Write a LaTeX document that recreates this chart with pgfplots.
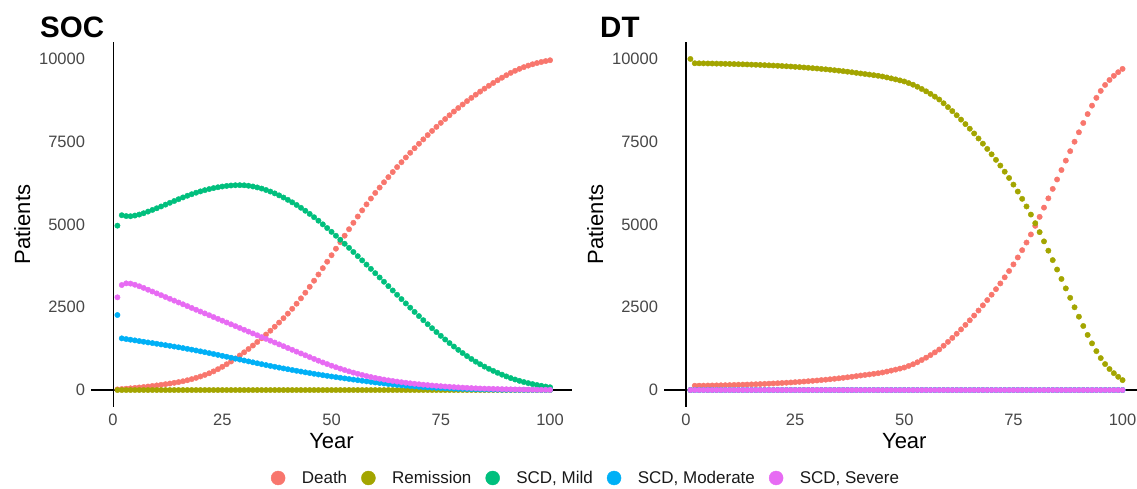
\documentclass[border=0pt]{standalone}
\usepackage{fontspec}
\setmainfont{Liberation Sans}
\usepackage{pgfplots}
\usepackage{pgfplotstable}
\pgfplotsset{compat=1.18}
\definecolor{cD}{HTML}{F8766D}
\definecolor{cR}{HTML}{A3A500}
\definecolor{cMi}{HTML}{00BF7D}
\definecolor{cMo}{HTML}{00B0F6}
\definecolor{cSe}{HTML}{E76BF3}

\pgfplotstableread{
yr D R Mi Mo Se
1 20 0 4965 2266 2800
2 30 0 5280 1561 3172
3 41 0 5255 1540 3222
4 53 0 5250 1520 3215
5 65 0 5270 1500 3180
6 78 0 5300 1479 3135
7 92 0 5340 1458 3085
8 107 0 5390 1438 3030
9 123 0 5440 1418 2975
10 140 0 5490 1398 2920
11 158 0 5545 1377 2865
12 177 0 5600 1356 2810
13 197 0 5655 1335 2755
14 218 0 5710 1313 2700
15 240 0 5765 1291 2645
16 266 0 5818 1268 2590
17 296 0 5868 1244 2535
18 330 0 5915 1220 2480
19 368 0 5960 1195 2425
20 410 0 6000 1169 2370
21 456 0 6037 1143 2315
22 506 0 6070 1116 2260
23 564 0 6100 1089 2205
24 630 0 6125 1061 2150
25 702 0 6147 1033 2095
26 780 0 6165 1005 2040
27 864 0 6178 977 1985
28 952 0 6186 949 1930
29 1044 0 6188 921 1875
30 1140 0 6184 893 1820
31 1240 0 6170 865 1765
32 1344 0 6148 837 1710
33 1452 0 6120 809 1655
34 1564 0 6085 782 1600
35 1676 0 6043 755 1545
36 1792 0 5995 729 1490
37 1912 0 5940 703 1435
38 2038 0 5880 678 1380
39 2170 0 5815 653 1325
40 2308 0 5745 629 1270
41 2454 0 5670 605 1215
42 2608 0 5590 581 1160
43 2770 0 5505 558 1105
44 2940 0 5415 535 1050
45 3118 0 5320 513 995
46 3302 0 5220 491 940
47 3490 0 5115 470 886
48 3682 0 5005 449 834
49 3876 0 4893 429 784
50 4072 0 4778 409 736
51 4269 0 4660 390 690
52 4466 0 4540 371 646
53 4662 0 4418 352 604
54 4858 0 4295 334 564
55 5051 0 4170 316 526
56 5241 0 4044 298 490
57 5427 0 3917 280 456
58 5608 0 3789 263 424
59 5784 0 3660 246 394
60 5954 0 3530 229 366
61 6116 0 3400 213 340
62 6275 0 3270 197 316
63 6431 0 3139 182 294
64 6584 0 3008 168 274
65 6734 0 2877 155 255
66 6881 0 2747 142 237
67 7025 0 2617 130 220
68 7166 0 2488 119 204
69 7304 0 2360 108 189
70 7439 0 2234 98 175
71 7571 0 2110 89 162
72 7700 0 1988 81 150
73 7826 0 1868 73 138
74 7949 0 1751 66 127
75 8069 0 1637 59 117
76 8186 0 1526 53 107
77 8300 0 1418 47 98
78 8411 0 1314 42 89
79 8519 0 1214 37 81
80 8624 0 1118 33 73
81 8726 0 1026 29 66
82 8825 0 939 26 59
83 8921 0 857 23 53
84 9014 0 780 20 48
85 9104 0 708 18 43
86 9191 0 641 16 39
87 9275 0 579 14 35
88 9356 0 520 12 31
89 9434 0 465 10 28
90 9509 0 412 9 25
91 9579 0 362 8 22
92 9643 0 318 7 19
93 9701 0 278 6 17
94 9753 0 242 5 15
95 9799 0 210 4 13
96 9840 0 180 4 11
97 9876 0 153 3 9
98 9908 0 128 3 8
99 9936 0 105 2 7
100 9961 0 85 2 6
}\soc

\pgfplotstableread{
yr D R Mi Mo Se
1 0 10000 0 0 0
2 130 9870 0 0 0
3 132 9868 0 0 0
4 134 9866 0 0 0
5 136 9864 0 0 0
6 138 9862 0 0 0
7 141 9859 0 0 0
8 144 9856 0 0 0
9 147 9853 0 0 0
10 150 9850 0 0 0
11 154 9846 0 0 0
12 158 9842 0 0 0
13 162 9838 0 0 0
14 166 9834 0 0 0
15 171 9829 0 0 0
16 176 9824 0 0 0
17 181 9819 0 0 0
18 187 9813 0 0 0
19 193 9807 0 0 0
20 199 9801 0 0 0
21 206 9794 0 0 0
22 213 9787 0 0 0
23 221 9779 0 0 0
24 229 9771 0 0 0
25 238 9762 0 0 0
26 247 9753 0 0 0
27 257 9743 0 0 0
28 267 9733 0 0 0
29 278 9722 0 0 0
30 289 9711 0 0 0
31 301 9699 0 0 0
32 313 9687 0 0 0
33 326 9674 0 0 0
34 340 9660 0 0 0
35 354 9646 0 0 0
36 369 9631 0 0 0
37 385 9615 0 0 0
38 402 9598 0 0 0
39 420 9580 0 0 0
40 439 9561 0 0 0
41 455 9545 0 0 0
42 472 9528 0 0 0
43 490 9510 0 0 0
44 508 9492 0 0 0
45 530 9470 0 0 0
46 558 9442 0 0 0
47 587 9413 0 0 0
48 617 9383 0 0 0
49 648 9352 0 0 0
50 680 9320 0 0 0
51 728 9272 0 0 0
52 778 9222 0 0 0
53 840 9160 0 0 0
54 907 9093 0 0 0
55 978 9022 0 0 0
56 1055 8945 0 0 0
57 1138 8862 0 0 0
58 1225 8775 0 0 0
59 1338 8662 0 0 0
60 1455 8545 0 0 0
61 1575 8425 0 0 0
62 1700 8300 0 0 0
63 1832 8168 0 0 0
64 1968 8032 0 0 0
65 2107 7893 0 0 0
66 2250 7750 0 0 0
67 2402 7598 0 0 0
68 2558 7442 0 0 0
69 2717 7283 0 0 0
70 2880 7120 0 0 0
71 3047 6953 0 0 0
72 3220 6780 0 0 0
73 3405 6595 0 0 0
74 3595 6405 0 0 0
75 3795 6205 0 0 0
76 4005 5995 0 0 0
77 4225 5775 0 0 0
78 4455 5545 0 0 0
79 4700 5300 0 0 0
80 4960 5040 0 0 0
81 5230 4770 0 0 0
82 5510 4490 0 0 0
83 5790 4210 0 0 0
84 6075 3925 0 0 0
85 6360 3640 0 0 0
86 6645 3355 0 0 0
87 6930 3070 0 0 0
88 7215 2785 0 0 0
89 7500 2500 0 0 0
90 7785 2215 0 0 0
91 8065 1935 0 0 0
92 8335 1665 0 0 0
93 8590 1410 0 0 0
94 8825 1175 0 0 0
95 9035 965 0 0 0
96 9215 785 0 0 0
97 9365 635 0 0 0
98 9490 510 0 0 0
99 9600 400 0 0 0
100 9700 300 0 0 0
}\dt

\pgfplotsset{
  panel/.style={
    scale only axis, anchor=south west,
    ymin=-500, ymax=10500,
    xtick={0,25,50,75,100}, ytick={0,2500,5000,7500,10000},
    axis line style={draw=none},
    major tick length=0pt, tick style={draw=none},
    /pgf/number format/assume math mode=true,
    /pgf/number format/1000 sep={},
    scaled ticks=false,
    ticklabel style={font=\fontsize{16.5}{18}\selectfont, text=black!72},
    xticklabel style={anchor=north, inner sep=0pt, yshift=-7pt},
    yticklabel style={anchor=east, inner sep=0pt, xshift=-6pt},
    label style={font=\fontsize{22}{24}\selectfont, text=black, inner sep=0pt},
    xlabel={Year}, ylabel={Patients},
  },
  dots/.style={only marks, mark=*, mark size=2.7pt, forget plot},
  legend image code/.code={\fill[#1] (0pt,0pt) circle (7pt);},
}

\begin{document}
\begin{tikzpicture}
\begin{axis}[panel,
  at={(91.2pt,81.4pt)}, width=480.7pt, height=364.2pt,
  xmin=-5, xmax=105,
  xlabel style={at={(rel axis cs:0.5,-0.1137)}, anchor=base},
  ylabel style={at={(rel axis cs:-0.1273,0.5)}, anchor=base},
  legend columns=5,
  legend style={at={(rel axis cs:1.0293,-0.196)}, anchor=center,
    draw=none, fill=none, font=\fontsize{17}{19}\selectfont, text=black!90,
    /tikz/every odd column/.append style={column sep=14.5pt},
    /tikz/every even column/.append style={column sep=12pt}},
]
\addplot[dots, cD]  table[x=yr, y=D]  {\soc};
\addplot[dots, cR]  table[x=yr, y=R]  {\soc};
\addplot[dots, cMi] table[x=yr, y=Mi] {\soc};
\addplot[dots, cMo] table[x=yr, y=Mo] {\soc};
\addplot[dots, cSe] table[x=yr, y=Se] {\soc};
\draw[black, line width=1.1pt] (axis cs:-5,0) -- (axis cs:105,0);
\draw[black, line width=1.1pt] (axis cs:0,-500) -- (axis cs:0,10500);
\addlegendimage{cD}\addlegendentry{Death}
\addlegendimage{cR}\addlegendentry{Remission}
\addlegendimage{cMi}\addlegendentry{SCD, Mild}
\addlegendimage{cMo}\addlegendentry{SCD, Moderate}
\addlegendimage{cSe}\addlegendentry{SCD, Severe}
\end{axis}

\begin{axis}[panel,
  at={(664.2pt,81.4pt)}, width=473.2pt, height=364.2pt,
  xmin=-5, xmax=103.4,
  xlabel style={at={(rel axis cs:0.5074,-0.1137)}, anchor=base},
  ylabel style={at={(rel axis cs:-0.1293,0.5)}, anchor=base},
]
\addplot[dots, cD]  table[x=yr, y=D]  {\dt};
\addplot[dots, cR]  table[x=yr, y=R]  {\dt};
\addplot[dots, cMi] table[x=yr, y=Mi] {\dt};
\addplot[dots, cMo] table[x=yr, y=Mo] {\dt};
\addplot[dots, cSe] table[x=yr, y=Se] {\dt};
\draw[black, line width=1.1pt] (axis cs:-5,0) -- (axis cs:103.4,0);
\draw[black, line width=1.1pt] (axis cs:0,-500) -- (axis cs:0,10500);
\end{axis}

\node[anchor=base west, inner sep=0pt, font=\bfseries\fontsize{29.5}{31}\selectfont] at (40pt,450pt) {SOC};
\node[anchor=base west, inner sep=0pt, font=\bfseries\fontsize{29.5}{31}\selectfont] at (600pt,450pt) {DT};

\pgfresetboundingbox
\path[use as bounding box] (0pt,0pt) rectangle (1137pt,488pt);
\end{tikzpicture}
\end{document}
